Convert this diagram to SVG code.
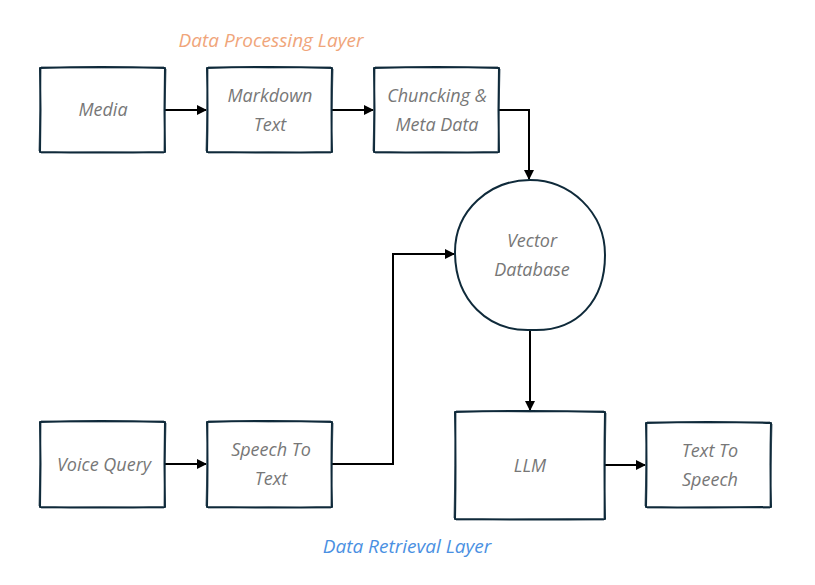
<svg xmlns="http://www.w3.org/2000/svg" width="815" height="585" viewBox="0 0 815 585">
<defs>
<marker id="arr" viewBox="0 0 10 10" refX="9" refY="5" markerWidth="5" markerHeight="5" orient="auto" markerUnits="strokeWidth">
<path d="M0,0 L10,5 L0,10 z" fill="#000"/>
</marker>
<style>
.box{fill:#fff;stroke:#0f2a3a;stroke-width:2;stroke-linejoin:round}
.sk{fill:none;stroke:#0f2a3a;stroke-width:1;opacity:0.7}
.lbl{font-family:"Open Sans","Liberation Sans",sans-serif;font-style:italic;font-size:18px;fill:#777;text-anchor:middle}
.edge{fill:none;stroke:#000;stroke-width:2;marker-end:url(#arr)}
.title{font-family:"Open Sans","Liberation Sans",sans-serif;font-style:italic;font-size:19px;text-anchor:middle}
</style>
</defs>
<rect width="815" height="585" fill="#fff"/>
<text class="title" x="271" y="47" fill="#f0a57a">Data Processing Layer</text>
<text class="title" x="407" y="553" fill="#4a90e2">Data Retrieval Layer</text>
<g id="connectors">
<path class="edge" d="M165,110 L206,110"/>
<path class="edge" d="M332,110 L373,110"/>
<path class="edge" d="M499,110 L529,110 L529,179"/>
<path class="edge" d="M165,464 L206,464"/>
<path class="edge" d="M332,464 L393,464 L393,254 L454,254"/>
<path class="edge" d="M530,331 L530,410"/>
<path class="edge" d="M605,465 L645,465"/>
</g>
<g id="media">
<path class="box" d="M40,68 Q100,66 165,68 Q164,110 165,152 Q100,153 40,152 Q41,110 40,68 z"/>
<path class="sk" d="M41,67 Q100,69 164,67 M166,69 Q165,110 164,151 M164,153 Q100,151 41,153 M39,151 Q40,110 41,69"/>
<text class="lbl" x="103" y="116">Media</text>
</g>
<g id="markdown">
<path class="box" d="M207,68 Q270,66 332,68 Q331,110 332,152 Q270,153 207,152 Q208,110 207,68 z"/>
<path class="sk" d="M208,67 Q270,69 331,67 M333,69 Q332,110 331,151 M331,153 Q270,151 208,153 M206,151 Q207,110 208,69"/>
<text class="lbl" x="270" y="102">Markdown</text>
<text class="lbl" x="270" y="131">Text</text>
</g>
<g id="chunking">
<path class="box" d="M374,68 Q437,66 499,68 Q498,110 499,152 Q437,153 374,152 Q375,110 374,68 z"/>
<path class="sk" d="M375,67 Q437,69 498,67 M500,69 Q499,110 498,151 M498,153 Q437,151 375,153 M373,151 Q374,110 375,69"/>
<text class="lbl" x="437" y="102">Chuncking &amp;</text>
<text class="lbl" x="437" y="131">Meta Data</text>
</g>
<g id="vectordb">
<path class="box" d="M530,180 C570,180 605,212 605,255 C605,300 578,332 532,330 C488,332 455,300 455,252 C455,210 490,180 530,180 z"/>
<text class="lbl" x="532" y="247">Vector</text>
<text class="lbl" x="532" y="276">Database</text>
</g>
<g id="voice">
<path class="box" d="M40,422 Q100,420 165,422 Q164,464 165,507 Q100,508 40,507 Q41,464 40,422 z"/>
<path class="sk" d="M41,421 Q100,423 164,421 M166,423 Q165,464 164,506 M164,508 Q100,506 41,508 M39,506 Q40,464 41,423"/>
<text class="lbl" x="104" y="471">Voice Query</text>
</g>
<g id="stt">
<path class="box" d="M207,422 Q270,420 332,422 Q331,464 332,507 Q270,508 207,507 Q208,464 207,422 z"/>
<path class="sk" d="M208,421 Q270,423 331,421 M333,423 Q332,464 331,506 M331,508 Q270,506 208,508 M206,506 Q207,464 208,423"/>
<text class="lbl" x="271" y="456">Speech To</text>
<text class="lbl" x="271" y="485">Text</text>
</g>
<g id="llm">
<path class="box" d="M455,412 Q530,410 605,412 Q604,465 605,519 Q530,520 455,519 Q456,465 455,412 z"/>
<path class="sk" d="M456,411 Q530,413 604,411 M606,413 Q605,465 604,518 M604,520 Q530,518 456,520 M454,518 Q455,465 456,413"/>
<text class="lbl" x="530" y="472">LLM</text>
</g>
<g id="tts">
<path class="box" d="M646,423 Q708,421 771,423 Q770,465 771,507 Q708,508 646,507 Q647,465 646,423 z"/>
<path class="sk" d="M647,422 Q708,424 770,422 M772,424 Q771,465 770,506 M770,508 Q708,506 647,508 M645,506 Q646,465 647,424"/>
<text class="lbl" x="710" y="457">Text To</text>
<text class="lbl" x="710" y="486">Speech</text>
</g>
</svg>
